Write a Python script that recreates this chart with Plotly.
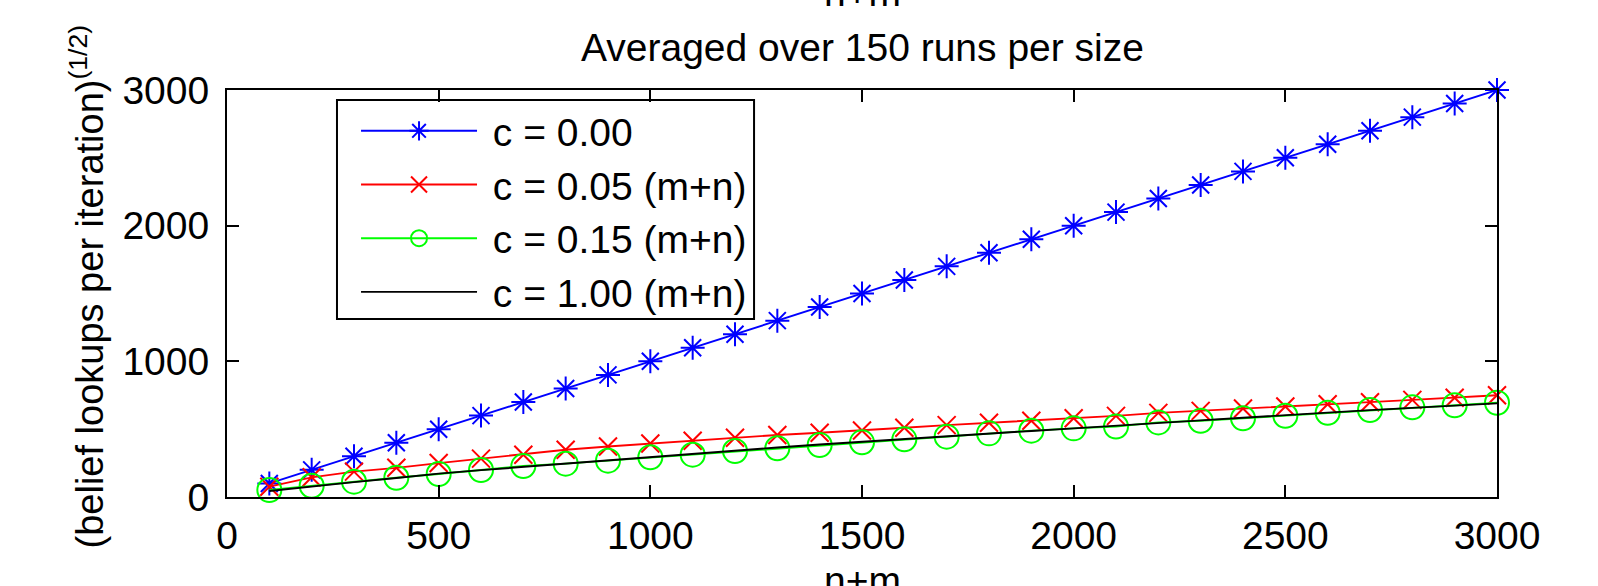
import plotly.graph_objects as go

size_vals = [100, 200, 300, 400, 500, 600, 700, 800, 900, 1000,
             1100, 1200, 1300, 1400, 1500, 1600, 1700, 1800, 1900, 2000,
             2100, 2200, 2300, 2400, 2500, 2600, 2700, 2800, 2900, 3000]

c000 = [100, 200, 300, 400, 500, 600, 700, 800, 900, 1000,
        1100, 1200, 1300, 1400, 1500, 1600, 1700, 1800, 1900, 2000,
        2100, 2200, 2300, 2400, 2500, 2600, 2700, 2800, 2900, 3000]

c005 = [76, 145, 187, 215, 250, 283, 312, 348, 372, 394,
        415, 437, 457, 474, 490, 510, 530, 547, 562, 580,
        598, 620, 635, 652, 667, 684, 699, 716, 732, 750]

c015 = [52, 83, 113, 142, 170, 199, 228, 246, 268, 293,
        312, 339, 359, 383, 403, 425, 445, 469, 489, 506,
        520, 550, 562, 580, 599, 621, 641, 661, 676, 695]

c100 = [44, 78, 110, 140, 172, 198, 222, 245, 272, 298,
        320, 343, 365, 387, 408, 428, 448, 468, 487, 506,
        527, 547, 565, 584, 605, 622, 640, 657, 674, 690]

series_names = ["c = 0.00", "c = 0.05 (m+n)", "c = 0.15 (m+n)", "c = 1.00 (m+n)"]
x_ticks = [0, 500, 1000, 1500, 2000, 2500, 3000]
y_ticks = [0, 1000, 2000, 3000]

FONT = "Liberation Sans, Arial, Helvetica, sans-serif"
FS = 39
NB = "\u00a0"

fig = go.Figure()
fig.add_trace(go.Scatter(
    x=size_vals, y=c000, name=NB + series_names[0], mode="lines+markers",
    line=dict(color="#0000FF", width=1.9),
    marker=dict(symbol="asterisk-open", size=20, color="#0000FF",
                line=dict(color="#0000FF", width=2)),
    cliponaxis=False))
fig.add_trace(go.Scatter(
    x=size_vals, y=c005, name=NB + series_names[1], mode="lines+markers",
    line=dict(color="#FF0000", width=1.9),
    marker=dict(symbol="x-thin-open", size=18, color="#FF0000",
                line=dict(color="#FF0000", width=2)),
    cliponaxis=False))
fig.add_trace(go.Scatter(
    x=size_vals, y=c015, name=NB + series_names[2], mode="lines+markers",
    line=dict(color="#00FF00", width=1.9),
    marker=dict(symbol="circle-open", size=24, color="#00FF00",
                line=dict(color="#00FF00", width=2)),
    cliponaxis=False))
fig.add_trace(go.Scatter(
    x=size_vals, y=c100, name=NB + series_names[3], mode="lines",
    line=dict(color="#000000", width=1.9),
    cliponaxis=False))

axis_common = dict(
    showgrid=False, zeroline=False, showline=True, linecolor="black",
    linewidth=2, mirror="ticks", ticks="inside", ticklen=12,
    tickwidth=1.5, tickcolor="black",
    tickfont=dict(family=FONT, size=FS, color="black"),
)

fig.update_xaxes(range=[0, 3000], tickvals=x_ticks, ticklabelstandoff=3,
                 **axis_common)
fig.update_yaxes(range=[0, 3000], tickvals=y_ticks, ticklabelstandoff=8,
                 **axis_common)

annotations = [
    dict(text="n+m", x=0.5, y=1.24, xref="paper", yref="paper",
         showarrow=False, xanchor="center", yanchor="middle",
         font=dict(family=FONT, size=FS, color="black")),
    dict(text="Averaged over 150 runs per size", x=0.5, y=1.105,
         xref="paper", yref="paper", showarrow=False,
         xanchor="center", yanchor="middle",
         font=dict(family=FONT, size=FS, color="black")),
    dict(text="n+m", x=0.5, y=-0.205, xref="paper", yref="paper",
         showarrow=False, xanchor="center", yanchor="middle",
         font=dict(family=FONT, size=FS, color="black")),
    dict(text="(belief lookups per iteration)<sup>(1/2)</sup>",
         x=-0.110, y=0.518, xref="paper", yref="paper", textangle=-90,
         showarrow=False, xanchor="center", yanchor="middle",
         font=dict(family=FONT, size=38, color="black")),
]

# legend frame (MATLAB-style box with padding)
shapes = [dict(type="rect", xref="paper", yref="paper",
               x0=0.0866, x1=0.415, y0=0.4373, y1=0.9754,
               line=dict(color="black", width=2), fillcolor="white",
               layer="below")]

fig.update_layout(
    width=1598, height=586,
    margin=dict(l=227, r=101, t=90, b=89, autoexpand=False),
    paper_bgcolor="white", plot_bgcolor="white",
    font=dict(family=FONT, size=FS, color="black"),
    annotations=annotations,
    shapes=shapes,
    showlegend=True,
    legend=dict(
        x=0.1016, y=0.978, xanchor="left", yanchor="top",
        bgcolor="rgba(0,0,0,0)", borderwidth=0,
        font=dict(family=FONT, size=FS, color="black"),
        itemwidth=116, tracegroupgap=0,
    ),
)

fig.write_html("out.html")
